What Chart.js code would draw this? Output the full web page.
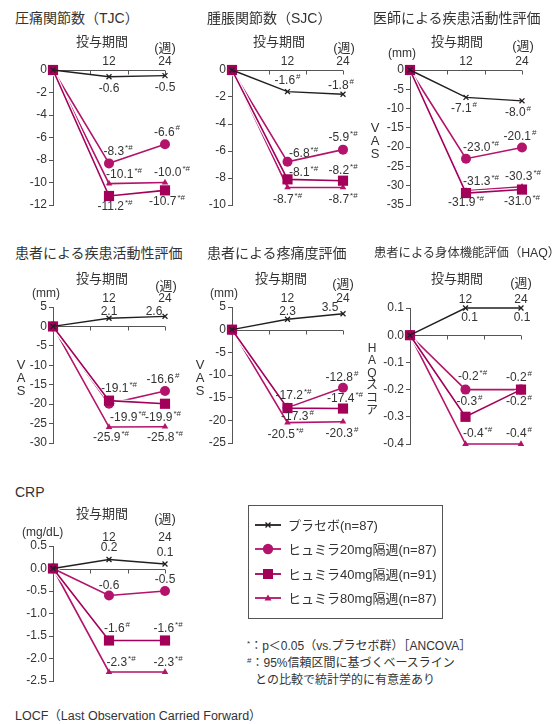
<!DOCTYPE html>
<html lang="ja">
<head>
<meta charset="utf-8">
<script src="https://cdn.jsdelivr.net/npm/chart.js@4.4.1/dist/chart.umd.min.js"></script>
<style>
  body { margin: 0; background: #fff; }
  #page { position: relative; width: 552px; height: 724px; overflow: hidden;
    font-family: "Liberation Sans", "Noto Sans CJK JP", sans-serif; color: #333; }
  #page canvas { position: absolute; }
  .txt { position: absolute; white-space: nowrap; line-height: 1; transform: translateY(-50%); }
  .mid { transform: translate(-50%, -50%); text-align: center; }
  .legend { position: absolute; left: 248px; top: 505px; width: 193px; height: 112px; border: 1px solid #555; }
  .sup { font-size: 8px; vertical-align: 4px; }
</style>
</head>
<body>
<div id="page"></div>
<script>
const weeks = [0, 12, 24];
const xTickWeeks = [12, 24];
const zeroLineTicks = [8, 16, 24];

// 圧痛関節数（TJC）
const tjcTicks = [0, -2, -4, -6, -8, -10, -12];
const tjcPlacebo = [0, -0.6, -0.5];
const tjcH20 = [0, -8.3, -6.6];
const tjcH40 = [0, -11.2, -10.7];
const tjcH80 = [0, -10.1, -10.0];
const tjcMarksP = ['', '', ''];
const tjcMarks20 = ['', '*#', '#'];
const tjcMarks40 = ['', '*#', '*#'];
const tjcMarks80 = ['', '*#', '*#'];

// 腫脹関節数（SJC）
const sjcTicks = [0, -2, -4, -6, -8, -10];
const sjcPlacebo = [0, -1.6, -1.8];
const sjcH20 = [0, -6.8, -5.9];
const sjcH40 = [0, -8.1, -8.2];
const sjcH80 = [0, -8.7, -8.7];
const sjcMarksP = ['', '#', '#'];
const sjcMarks20 = ['', '*#', '*#'];
const sjcMarks40 = ['', '*#', '*#'];
const sjcMarks80 = ['', '*#', '*#'];

// 医師による疾患活動性評価
const mdTicks = [0, -5, -10, -15, -20, -25, -30, -35];
const mdPlacebo = [0, -7.1, -8.0];
const mdH20 = [0, -23.0, -20.1];
const mdH40 = [0, -31.9, -31.0];
const mdH80 = [0, -31.3, -30.3];
const mdMarksP = ['', '#', '#'];
const mdMarks20 = ['', '*#', '#'];
const mdMarks40 = ['', '*#', '*#'];
const mdMarks80 = ['', '*#', '*#'];

// 患者による疾患活動性評価
const ptTicks = [5, 0, -5, -10, -15, -20, -25, -30];
const ptPlacebo = [0, 2.1, 2.6];
const ptH20 = [0, -19.9, -16.6];
const ptH40 = [0, -19.1, -19.9];
const ptH80 = [0, -25.9, -25.8];
const ptMarksP = ['', '', ''];
const ptMarks20 = ['', '*#', '#'];
const ptMarks40 = ['', '*#', '*#'];
const ptMarks80 = ['', '*#', '*#'];

// 患者による疼痛度評価
const painTicks = [5, 0, -5, -10, -15, -20, -25];
const painPlacebo = [0, 2.3, 3.5];
const painH20 = [0, -17.2, -12.8];
const painH40 = [0, -17.3, -17.4];
const painH80 = [0, -20.5, -20.3];
const painMarksP = ['', '', ''];
const painMarks20 = ['', '*#', '#'];
const painMarks40 = ['', '#', '*#'];
const painMarks80 = ['', '*#', '#'];

// 患者による身体機能評価（HAQ）
const haqTicks = [0.1, 0.0, -0.1, -0.2, -0.3, -0.4];
const haqPlacebo = [0, 0.1, 0.1];
const haqH20 = [0, -0.2, -0.2];
const haqH40 = [0, -0.3, -0.2];
const haqH80 = [0, -0.4, -0.4];
const haqMarksP = ['', '', ''];
const haqMarks20 = ['', '*#', '#'];
const haqMarks40 = ['', '#', '#'];
const haqMarks80 = ['', '*#', '#'];

// CRP
const crpTicks = [0.5, 0.0, -0.5, -1.0, -1.5, -2.0, -2.5];
const crpPlacebo = [0, 0.2, 0.1];
const crpH20 = [0, -0.6, -0.5];
const crpH40 = [0, -1.6, -1.6];
const crpH80 = [0, -2.3, -2.3];
const crpMarksP = ['', '', ''];
const crpMarks20 = ['', '', ''];
const crpMarks40 = ['', '#', '*#'];
const crpMarks80 = ['', '*#', '*#'];

const FONT = '"Liberation Sans", "Noto Sans CJK JP", sans-serif';
const TEXT = '#333';
const AXIS = '#555';

const styles = {
  placebo: { color: '#231f20', pointStyle: 'crossRot', radius: 3.5, order: 0, width: 1.4 },
  h20: { color: '#b3136a', pointStyle: 'circle', radius: 5, order: 2, width: 1.6 },
  h40: { color: '#a3005a', pointStyle: 'rect', radius: 7.2, order: 1, width: 1.6 },
  h80: { color: '#b3136a', pointStyle: 'triangle', radius: 3.8, order: 3, width: 1.6 },
};

const page = document.getElementById('page');

function put(html, x, y, size, center, lineH) {
  const d = document.createElement('div');
  d.className = 'txt' + (center ? ' mid' : '');
  d.style.left = x + 'px';
  d.style.top = y + 'px';
  d.style.fontSize = size + 'px';
  if (lineH) d.style.lineHeight = lineH + 'px';
  d.innerHTML = html;
  page.appendChild(d);
  return d;
}

// zero line with small week ticks, drawn through the scales
const zeroAxis = {
  id: 'zeroAxis',
  beforeDatasetsDraw(chart) {
    const { ctx, scales: { x, y } } = chart;
    const y0 = Math.round(y.getPixelForValue(0)) + 0.5;
    ctx.save();
    ctx.strokeStyle = AXIS;
    ctx.lineWidth = 1;
    ctx.beginPath();
    ctx.moveTo(x.getPixelForValue(0), y0);
    ctx.lineTo(x.getPixelForValue(24), y0);
    zeroLineTicks.forEach(w => {
      const px = Math.round(x.getPixelForValue(w)) + 0.5;
      ctx.moveTo(px, y0);
      ctx.lineTo(px, y0 + 4);
    });
    ctx.stroke();
    ctx.restore();
  }
};

// white edge under the coloured lines
const lineHalo = {
  id: 'lineHalo',
  beforeDatasetDraw(chart, args) {
    const ds = chart.data.datasets[args.index];
    if (ds.kind === 'placebo') return;
    const pts = args.meta.data;
    const ctx = chart.ctx;
    ctx.save();
    ctx.strokeStyle = '#fff';
    ctx.lineWidth = 4;
    ctx.lineJoin = 'round';
    ctx.beginPath();
    pts.forEach((p, i) => i ? ctx.lineTo(p.x, p.y) : ctx.moveTo(p.x, p.y));
    ctx.stroke();
    ctx.restore();
  }
};

// value labels with small * / # marks
const valueLabels = {
  id: 'valueLabels',
  afterDatasetsDraw(chart) {
    const ctx = chart.ctx;
    chart.data.datasets.forEach((ds, i) => {
      const meta = chart.getDatasetMeta(i);
      meta.data.forEach((p, j) => {
        if (j === 0) return;
        const num = ds.values[j].toFixed(1);
        const mark = ds.marks[j];
        const [dx, dy] = ds.offsets[j - 1];
        ctx.save();
        ctx.fillStyle = TEXT;
        ctx.textBaseline = 'middle';
        ctx.font = '12px ' + FONT;
        const w1 = ctx.measureText(num).width;
        ctx.font = '8px ' + FONT;
        const w2 = mark ? ctx.measureText(mark).width + 1 : 0;
        const left = p.x + dx - (w1 + w2) / 2;
        const cy = p.y + dy;
        ctx.font = '12px ' + FONT;
        ctx.textAlign = 'left';
        ctx.fillText(num, left, cy);
        if (mark) {
          ctx.font = '8px ' + FONT;
          ctx.fillText(mark, left + w1 + 1, cy - 4);
        }
        ctx.restore();
      });
    });
  }
};

function series(kind, values, marks, offsets) {
  const s = styles[kind];
  return {
    kind, marks, offsets,
    values,
    data: values.map((v, i) => ({ x: weeks[i], y: v })),
    borderColor: s.color,
    backgroundColor: s.color,
    borderWidth: s.width,
    pointStyle: s.pointStyle,
    pointRadius: s.radius,
    pointHoverRadius: s.radius,
    pointBorderWidth: kind === 'placebo' ? 1.3 : 0,
    pointBorderColor: s.color,
    pointBackgroundColor: s.color,
    order: s.order,
    clip: false,
    tension: 0,
  };
}

const panels = [
  { area: [53, 70, 165, 205], ticks: tjcTicks, dec: 0, series: [
    series('placebo', tjcPlacebo, tjcMarksP, [[0, 12], [0, 12]]),
    series('h20', tjcH20, tjcMarks20, [[9, -12], [2, -12]]),
    series('h40', tjcH40, tjcMarks40, [[6, 11], [2, 11]]),
    series('h80', tjcH80, tjcMarks80, [[15, -9], [7, -10]]),
  ]},
  { area: [232, 70, 343, 205], ticks: sjcTicks, dec: 0, series: [
    series('placebo', sjcPlacebo, sjcMarksP, [[0, -11], [-2, -9]]),
    series('h20', sjcH20, sjcMarks20, [[16, -8], [0, -12]]),
    series('h40', sjcH40, sjcMarks40, [[16, -7], [0, -10]]),
    series('h80', sjcH80, sjcMarks80, [[0, 12], [0, 12]]),
  ]},
  { area: [410, 70, 522, 205], ticks: mdTicks, dec: 0, series: [
    series('placebo', mdPlacebo, mdMarksP, [[-2, 11], [-4, 12]]),
    series('h20', mdH20, mdMarks20, [[15, -11], [-2, -11]]),
    series('h40', mdH40, mdMarks40, [[0, 10], [0, 12]]),
    series('h80', mdH80, mdMarks80, [[15, -9], [1, -10]]),
  ]},
  { area: [53, 307, 165, 443], ticks: ptTicks, dec: 0, series: [
    series('placebo', ptPlacebo, ptMarksP, [[0, -7], [-11, -5]]),
    series('h20', ptH20, ptMarks20, [[19, 14], [-2, -11]]),
    series('h40', ptH40, ptMarks40, [[10, -12], [-2, 14]]),
    series('h80', ptH80, ptMarks80, [[2, 11], [0, 11]]),
  ]},
  { area: [232, 307, 343, 443], ticks: painTicks, dec: 0, series: [
    series('placebo', painPlacebo, painMarksP, [[0, -8], [-13, -6]]),
    series('h20', painH20, painMarks20, [[6, -12], [-1, -10]]),
    series('h40', painH40, painMarks40, [[10, 9], [2, -10]]),
    series('h80', painH80, painMarks80, [[-2, 12], [-1, 12]]),
  ]},
  { area: [410, 308, 521, 444], ticks: haqTicks, dec: 1, series: [
    series('placebo', haqPlacebo, haqMarksP, [[4, 10], [1, 10]]),
    series('h20', haqH20, haqMarks20, [[7, -13], [-2, -12]]),
    series('h40', haqH40, haqMarks40, [[4, -15], [-2, 12]]),
    series('h80', haqH80, haqMarks80, [[12, -10], [-2, -10]]),
  ]},
  { area: [53, 546, 165, 681], ticks: crpTicks, dec: 1, series: [
    series('placebo', crpPlacebo, crpMarksP, [[0, -12], [0, -11]]),
    series('h20', crpH20, crpMarks20, [[0, -10], [0, -11]]),
    series('h40', crpH40, crpMarks40, [[8, -12], [3, -12]]),
    series('h80', crpH80, crpMarks80, [[12, -9], [3, -9]]),
  ]},
];

const PAD_L = 50, PAD_T = 26, PAD_R = 36, PAD_B = 22;

panels.forEach(p => {
  const [L, T, R, B] = p.area;
  const cv = document.createElement('canvas');
  cv.width = R - L + PAD_L + PAD_R;
  cv.height = B - T + PAD_T + PAD_B;
  cv.style.left = (L - PAD_L) + 'px';
  cv.style.top = (T - PAD_T) + 'px';
  page.appendChild(cv);

  new Chart(cv, {
    type: 'line',
    data: { datasets: p.series },
    options: {
      responsive: false,
      animation: false,
      events: [],
      layout: { padding: { left: 0, top: PAD_T - 16, right: PAD_R, bottom: PAD_B } },
      plugins: { legend: { display: false }, tooltip: { enabled: false } },
      scales: {
        x: {
          type: 'linear',
          position: 'top',
          min: 0,
          max: 24,
          grid: { display: false, drawTicks: false },
          border: { display: false },
          afterBuildTicks: s => { s.ticks = xTickWeeks.map(v => ({ value: v })); },
          afterFit: s => { s.height = 16; },
          ticks: { padding: 1, maxRotation: 0, autoSkip: false, color: TEXT, font: { size: 12, family: FONT } },
        },
        y: {
          min: Math.min(...p.ticks),
          max: Math.max(...p.ticks),
          afterBuildTicks: s => { s.ticks = p.ticks.map(v => ({ value: v })); },
          afterFit: s => { s.width = PAD_L; },
          grid: { drawOnChartArea: false, drawTicks: true, tickLength: 4, color: AXIS, lineWidth: 1 },
          border: { display: true, color: AXIS, width: 1 },
          ticks: {
            padding: 2,
            autoSkip: false,
            color: TEXT,
            font: { size: 12, family: FONT },
            callback: v => (Math.round(v * 10) / 10 + 0).toFixed(p.dec),
          },
        },
      },
    },
    plugins: [zeroAxis, lineHalo, valueLabels],
  });
});

// titles
put('圧痛関節数（TJC）', 15, 18, 14);
put('腫脹関節数（SJC）', 207, 18, 14);
put('医師による疾患活動性評価', 373, 18, 14);
put('患者による疾患活動性評価', 15, 253, 14);
put('患者による疼痛度評価', 207, 253, 14);
put('患者による身体機能評価（HAQ）', 374, 253, 12.3);
put('CRP', 15, 492, 14);

// 投与期間 / (週)
[[102, 41], [279, 41], [457, 41], [102, 278], [281, 278], [457, 278], [102, 513]]
  .forEach(([x, y]) => put('投与期間', x, y, 13, true));
[[165, 47], [344, 47], [523, 45], [166, 285], [343, 283], [521, 282], [165, 518]]
  .forEach(([x, y]) => put('(週)', x, y, 13, true));

// units
put('(mm)', 388, 53, 12);
put('(mm)', 32, 293, 12);
put('(mm)', 210, 293, 12);
put('(mg/dL)', 22, 532, 12);
put('V<br>A<br>S', 375, 140, 13, true, 13);
put('V<br>A<br>S', 21, 377, 13, true, 13);
put('V<br>A<br>S', 200, 377, 13, true, 13);
put('H<br>A<br>Q<br>ス<br>コ<br>ア', 372, 379, 12, true, 12.4);

// legend
const legendRows = [
  ['placebo', 'プラセボ(n=87)'],
  ['h20', 'ヒュミラ20mg隔週(n=87)'],
  ['h40', 'ヒュミラ40mg隔週(n=91)'],
  ['h80', 'ヒュミラ80mg隔週(n=87)'],
];
const box = document.createElement('div');
box.className = 'legend';
page.appendChild(box);
function symbol(kind) {
  const c = styles[kind].color;
  let m = '';
  if (kind === 'placebo') m = `<path d="M10.5 4.5L15.5 9.5M15.5 4.5L10.5 9.5" stroke="${c}" stroke-width="1.4"/>`;
  if (kind === 'h20') m = `<circle cx="13" cy="7" r="5.2" fill="${c}"/>`;
  if (kind === 'h40') m = `<rect x="8" y="2" width="10" height="10" fill="${c}"/>`;
  if (kind === 'h80') m = `<path d="M13 3.5L16.5 9.5L9.5 9.5Z" fill="${c}"/>`;
  return `<svg width="26" height="14" style="position:absolute;left:0;top:0"><line x1="0" y1="7" x2="26" y2="7" stroke="${c}" stroke-width="1.8"/>${m}</svg>`;
}
legendRows.forEach(([kind, label], i) => {
  const y = 525 + i * 24.4;
  const s = document.createElement('div');
  s.style.cssText = `position:absolute;left:255px;top:${y - 7}px;width:26px;height:14px`;
  s.innerHTML = symbol(kind);
  page.appendChild(s);
  put(label, 288, y, 13);
});

// notes
put('<span class="sup">*</span>：p＜0.05（vs.プラセボ群）［ANCOVA］', 247, 646, 12);
put('<span class="sup">#</span>：95%信頼区間に基づくベースライン', 247, 663, 12);
put('との比較で統計学的に有意差あり', 255, 680, 12);
put('LOCF（Last Observation Carried Forward）', 15, 716, 12.5);
</script>
</body>
</html>
